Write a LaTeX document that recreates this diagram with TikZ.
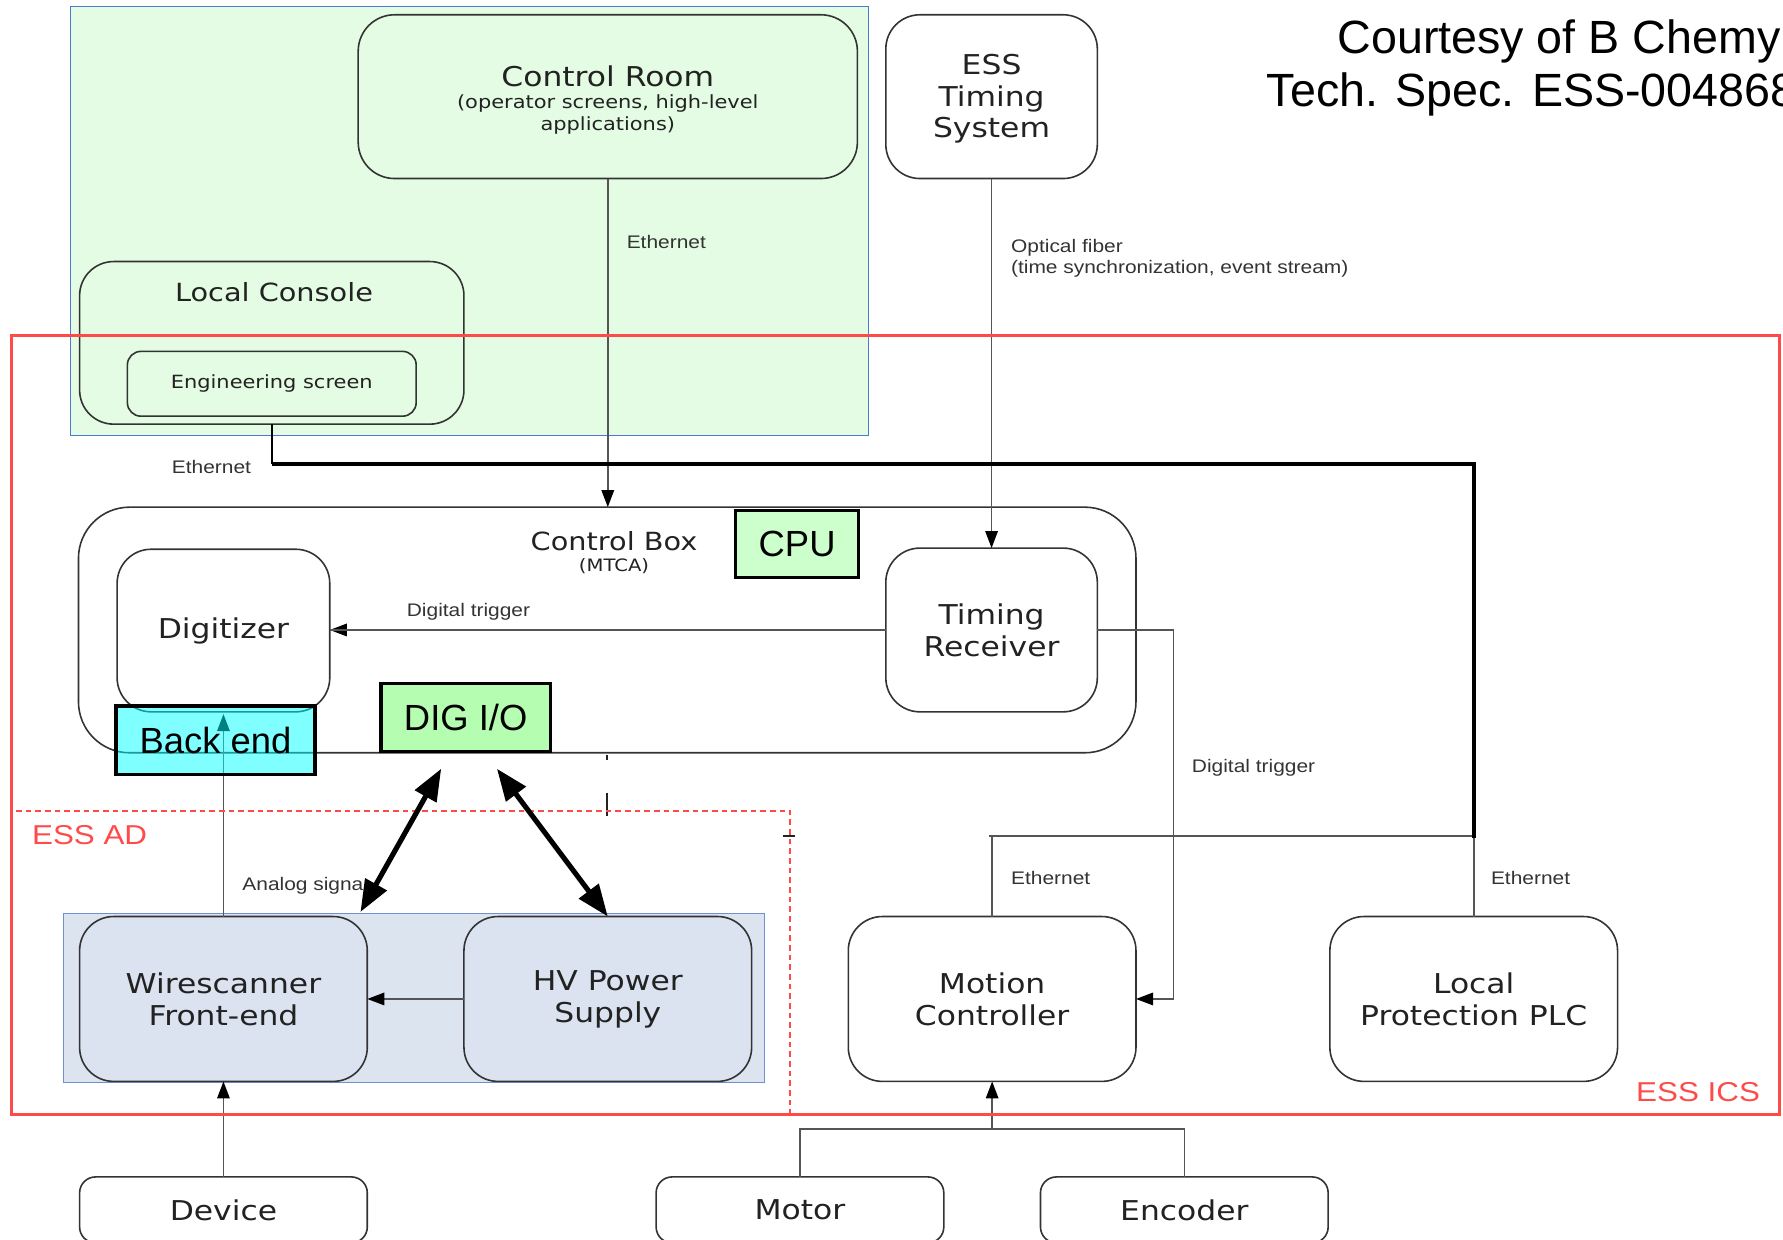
\documentclass[tikz,border=0pt]{standalone}
\usepackage{fontspec}
\setmainfont{DejaVu Sans}
\newfontfamily\boxfont[FakeStretch=1.15]{DejaVu Sans}
\newfontfamily\lblfont[FakeStretch=1.15]{Liberation Sans}
\newfontfamily\slidefont{Liberation Sans}
\usetikzlibrary{arrows.meta}

\definecolor{zonefill}{HTML}{E3FCE3}
\definecolor{zoneedge}{HTML}{4A7BD0}
\definecolor{edgegray}{HTML}{333333}
\definecolor{inkgray}{HTML}{222222}
\definecolor{wiregray}{HTML}{555555}
\definecolor{icsred}{HTML}{FF4A4A}
\definecolor{groupfill}{HTML}{DCE4F0}
\definecolor{groupedge}{HTML}{6F8FD0}
\definecolor{unitblue}{HTML}{DAE3EF}
\definecolor{cpugreen}{HTML}{CCFFCC}
\definecolor{diogreen}{HTML}{B5FDB0}
\definecolor{backcyan}{RGB}{0,255,255}

\tikzset{
  blk/.style={draw=edgegray, line width=1.4pt, rounded corners=#1, inner sep=0pt,
    outer sep=0pt, align=center, text=inkgray,
    font=\boxfont\fontsize{24}{28}\selectfont},
  blk/.default=30pt,
  zone/.style={inner sep=0pt, outer sep=0pt},
  wire/.style={draw=wiregray, line width=1.4pt},
  tip/.style={-{Triangle[length=15pt,width=11pt,color=black]}},
  eththick/.style={draw=black, line width=3.2pt},
  bigarrow/.style={draw=black, line width=4.5pt,
    {Triangle[length=28pt,width=21pt]}-{Triangle[length=28pt,width=21pt]}},
  lbl/.style={font=\lblfont\fontsize{16}{18}\selectfont, text=edgegray, inner sep=0pt},
  redlbl/.style={font=\lblfont\fontsize{24}{28}\selectfont, text=icsred, inner sep=0pt},
  card/.style={draw=black, line width=3pt, inner sep=0pt, outer sep=0pt,
    font=\slidefont\fontsize{32}{36}\selectfont, text=black},
}

\begin{document}
\begin{tikzpicture}[x=1pt,y=-1pt]
\useasboundingbox (0,0) rectangle (1568,1090);

% operator area (control room and local console)
\node[zone, draw=zoneedge, line width=1pt, fill=zonefill,
      minimum width=702pt, minimum height=377pt] (ctrlzone) at (413,194.5) {};

% wirescanner hardware group
\node[zone, draw=groupedge, line width=1pt, fill=groupfill,
      minimum width=616pt, minimum height=149pt] (wsgroup) at (364,877.5) {};

% top row
\node[blk=32pt, fill=zonefill, minimum width=439pt, minimum height=144pt] (ctrlroom) at (534.5,85)
  {\rule{0pt}{24pt}Control Room\\[-8pt]{\fontsize{16}{18}\selectfont (operator screens, high-level}\\[-9pt]{\fontsize{16}{18}\selectfont applications)}};
\node[blk, fill=white, minimum width=186pt, minimum height=144pt] (timing) at (872,85)
  {\rule{0pt}{21.5pt}ESS\\Timing\\System};

% local console with engineering screen
\node[blk, minimum width=338pt, minimum height=143pt] (console) at (239,301.5) {};
\node[font=\boxfont\fontsize{22}{26}\selectfont, text=inkgray, inner sep=0pt] (consoletitle) at (241,257) {Local Console};
\node[blk=12pt, minimum width=254pt, minimum height=57pt,
      font=\boxfont\fontsize{16}{18}\selectfont] (engscreen) at (239,337.5) {Engineering screen};

% control box (MTCA)
\node[blk=45pt, fill=white, minimum width=930pt, minimum height=216pt] (ctrlbox) at (534,554) {};
\node[font=\boxfont\fontsize{22}{26}\selectfont, text=inkgray, inner sep=0pt] (boxtitle) at (540,476) {Control Box};
\node[font=\boxfont\fontsize{15}{18}\selectfont, text=inkgray, inner sep=0pt] (boxsub) at (540,498) {(MTCA)};
\node[blk, fill=white, minimum width=187pt, minimum height=143pt] (digitizer) at (196.5,554.5) {Digitizer};
\node[blk, fill=white, minimum width=186pt, minimum height=144pt] (trecv) at (872,554) {Timing\\Receiver};

% field units
\node[blk, fill=unitblue, minimum width=253pt, minimum height=145pt] (wsfe) at (196.5,878.5) {Wirescanner\\Front-end};
\node[blk, fill=unitblue, minimum width=253pt, minimum height=145pt] (hvps) at (534.5,878.5) {HV Power\\Supply};
\node[blk, fill=white, minimum width=253pt, minimum height=145pt] (motion) at (872.5,878.5) {Motion\\Controller};
\node[blk, fill=white, minimum width=253pt, minimum height=145pt] (plc) at (1296,878.5) {Local\\Protection PLC};

% devices below the racks
\node[blk=14pt, fill=white, minimum width=253pt, minimum height=58pt] (device) at (196.5,1064) {Device};
\node[blk=14pt, fill=white, minimum width=253pt, minimum height=58pt] (motor) at (703.5,1064) {Motor};
\node[blk=14pt, fill=white, minimum width=253pt, minimum height=58pt] (encoder) at (1041.5,1064) {Encoder};

% connections
\draw[wire,tip] (ctrlroom.south) -- (ctrlroom.south |- ctrlbox.north);
\node[lbl, anchor=west] (ethtop) at (551,213) {Ethernet};

\draw[wire,tip] (timing.south) -- (trecv.north);
\node[lbl, anchor=west, align=left] (fiberlbl) at (889,227)
  {Optical fiber\\(time synchronization, event stream)};

\draw[wire,tip] (trecv.west) -- (trecv.west -| digitizer.east);
\draw[wire, line width=2.2pt] (trecv.west -| digitizer.east) -- ++(310,0);
\node[lbl] (trig1) at (412,538) {Digital trigger};

\draw[wire,tip] (trecv.east) -- ++(67,0) |- (motion.east);
\node[lbl, anchor=west] (trig2) at (1048,675) {Digital trigger};

\coordinate (busL) at (870,735);
\coordinate (busR) at (1296,735);
\draw[wire, line width=2pt] (busL) -- (busR);
\draw[wire] (motion.north) -- (motion.north |- busL);
\draw[wire] (plc.north) -- (plc.north |- busR);
\node[lbl, anchor=west] (eth3) at (889,772) {Ethernet};
\node[lbl, anchor=west] (eth4) at (1311,772) {Ethernet};

\draw[draw=black, line width=2pt] (console.south) -- ++(0,35) coordinate (ethcorner);
\draw[eththick] (ethcorner) -| ([yshift=-2pt]busR);
\node[lbl] (eth2) at (186,411) {Ethernet};

\draw[wire,tip] (hvps.west) -- (wsfe.east);
\draw[wire,tip] (device.north) -- (wsfe.south);
\draw[wire,tip] (wsfe.north) -- ++(0,-178);
\node[lbl, anchor=west] (analog) at (213,779) {Analog signa};

\coordinate (mjoin) at (872.5,993);
\draw[wire] (motor.north) -- (motor.north |- mjoin) -| (encoder.north);
\draw[wire,tip] (mjoin) -- (motion.south);

% leftover cable stubs
\draw[draw=inkgray, line width=2pt] (534,664) -- (534,668);
\draw[draw=inkgray, line width=2pt] (534,697) -- (534,718);
\draw[draw=inkgray, line width=2pt] (689,735) -- (699,735);

% boundaries
\node[zone, draw=icsred, line width=2.5pt, minimum width=1555pt, minimum height=685pt] (icszone) at (787.5,637.5) {};
\coordinate (adTL) at (14,713);
\coordinate (adTR) at (695,713);
\coordinate (adBR) at (695,980);
\draw[draw=icsred, line width=2pt, dash pattern=on 5pt off 3.5pt] (adTL) -- (adTR) -- (adBR);
\node[redlbl, anchor=west] (adlbl) at (28,734) {ESS AD};
\node[redlbl, anchor=east] (icslbl) at (1548,960) {ESS ICS};

% board cards
\node[card, fill=cpugreen, minimum width=108pt, minimum height=59pt] (cpu) at (701,478.5) {CPU};
\node[card, fill=diogreen, minimum width=149pt, minimum height=60pt] (digio) at (409.5,631) {DIG I/O};
\node[card, fill=backcyan, fill opacity=0.5, text opacity=1, minimum width=175pt, minimum height=60pt] (backend) at (189.5,651) {Back end};

% digital I/O links
\coordinate (dioA) at (388,676);
\coordinate (dioB) at (437,676);
\coordinate (wsTip) at (317,802);
\draw[bigarrow] (dioA) -- (wsTip);
\draw[bigarrow] (dioB) -- (hvps.north);

% credit
\node[font=\slidefont\fontsize{41}{47}\selectfont, anchor=base west, inner sep=0pt] (credit1) at (1176,47) {Courtesy of B Chemy};
\node[font=\slidefont\fontsize{41}{47}\selectfont, anchor=base west, inner sep=0pt] (credit2) at (1114,94) {Tech. Spec. ESS-004868};
\end{tikzpicture}
\end{document}
